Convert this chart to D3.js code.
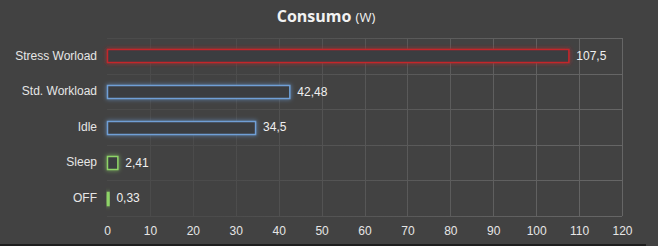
<!DOCTYPE html>
<html>
<head>
<meta charset="utf-8">
<script src="https://cdn.jsdelivr.net/npm/d3@7"></script>
<style>
  html, body { margin: 0; padding: 0; background: #424242; }
  svg { display: block; }
</style>
</head>
<body>
<div id="chart"></div>
<script>
// data
var categories = ["Stress Worload", "Std. Workload", "Idle", "Sleep", "OFF"];
var values = [107.5, 42.48, 34.5, 2.41, 0.33];
var labels = ["107,5", "42,48", "34,5", "2,41", "0,33"];
var strokes = ["#c4262b", "#6f9fd6", "#6f9fd6", "#8ed468", "#8ed468"];
var xTickValues = [0, 10, 20, 30, 40, 50, 60, 70, 80, 90, 100, 110, 120];

// size and margin
var width = 658;
var height = 246;
var margin = {top: 38, right: 36, bottom: 30, left: 107};
var inner_width = width - margin.left - margin.right;
var inner_height = height - margin.top - margin.bottom;

var svg = d3.select("#chart")
            .append("svg")
            .attr("width", width)
            .attr("height", height);

svg.append("rect")
   .attr("width", width)
   .attr("height", height)
   .attr("fill", "#424242");

var defs = svg.append("defs");
// grid fades toward the left
var grad = defs.append("linearGradient")
               .attr("id", "gridFade")
               .attr("gradientUnits", "userSpaceOnUse")
               .attr("x1", margin.left).attr("y1", 0)
               .attr("x2", margin.left + inner_width).attr("y2", 0);
grad.append("stop").attr("offset", "0%").attr("stop-color", "#4b4b4b");
grad.append("stop").attr("offset", "45%").attr("stop-color", "#5c5c5c");
grad.append("stop").attr("offset", "100%").attr("stop-color", "#6c6c6c");

var glow = defs.append("filter")
               .attr("id", "glow")
               .attr("x", "-50%").attr("y", "-50%")
               .attr("width", "200%").attr("height", "200%");
glow.append("feGaussianBlur")
    .attr("in", "SourceGraphic")
    .attr("stdDeviation", 2)
    .attr("result", "blur");
var merge = glow.append("feMerge");
merge.append("feMergeNode").attr("in", "blur");
merge.append("feMergeNode").attr("in", "SourceGraphic");

var g = svg.append("g")
           .attr("transform", "translate(" + margin.left + "," + margin.top + ")");

// scales
var xScale = d3.scaleLinear()
               .domain([0, 120])
               .range([0, inner_width]);
var yScale = d3.scaleBand()
               .domain(categories)
               .range([0, inner_height])
               .paddingInner(0.64)
               .paddingOuter(0.32);
var rowScale = d3.scaleBand()
                 .domain(categories)
                 .range([0, inner_height]);

// grid
var grid = g.append("g").attr("stroke", "url(#gridFade)").attr("stroke-width", 1);
grid.selectAll(".vgrid")
    .data(xTickValues.slice(1))
    .enter().append("line")
    .attr("class", "vgrid")
    .attr("x1", function(d) { return Math.round(xScale(d)) + 0.5; })
    .attr("x2", function(d) { return Math.round(xScale(d)) + 0.5; })
    .attr("y1", 0)
    .attr("y2", inner_height);
grid.selectAll(".hgrid")
    .data(categories)
    .enter().append("line")
    .attr("class", "hgrid")
    .attr("x1", 0)
    .attr("x2", inner_width)
    .attr("y1", function(d) { return Math.round(rowScale(d) + rowScale.bandwidth()) + 0.5; })
    .attr("y2", function(d) { return Math.round(rowScale(d) + rowScale.bandwidth()) + 0.5; });
grid.append("line")
    .attr("x1", 0).attr("x2", inner_width)
    .attr("y1", 0.5).attr("y2", 0.5);

// x axis
var xAxis = d3.axisBottom(xScale).tickValues(xTickValues).tickSize(0).tickPadding(10);
var xg = g.append("g")
          .attr("transform", "translate(0," + inner_height + ")")
          .call(xAxis);
xg.select(".domain").remove();
xg.selectAll("text")
  .attr("fill", "#e6e6e6")
  .attr("font-family", "Arial, 'Liberation Sans', sans-serif")
  .attr("font-size", 12);

// y axis
var yAxis = d3.axisLeft(yScale).tickSize(0).tickPadding(10);
var yg = g.append("g").call(yAxis);
yg.select(".domain").remove();
yg.selectAll("text")
  .attr("fill", "#e6e6e6")
  .attr("font-family", "Arial, 'Liberation Sans', sans-serif")
  .attr("font-size", 12);

// bars
var data = categories.map(function(c, i) {
  return {name: c, value: values[i], label: labels[i], stroke: strokes[i]};
});

g.selectAll(".bar")
 .data(data)
 .enter().append("rect")
 .attr("class", "bar")
 .attr("x", xScale(0) + 0.5)
 .attr("y", function(d) { return Math.round(yScale(d.name)) + 0.5; })
 .attr("width", function(d) { return Math.max(1, xScale(d.value) - xScale(0)); })
 .attr("height", Math.round(yScale.bandwidth()))
 .attr("fill", "#3b3d40")
 .attr("stroke", function(d) { return d.stroke; })
 .attr("stroke-width", 1.5)
 .attr("filter", "url(#glow)");

g.selectAll(".value")
 .data(data)
 .enter().append("text")
 .attr("class", "value")
 .attr("x", function(d) { return xScale(d.value) + 8; })
 .attr("y", function(d) { return yScale(d.name) + yScale.bandwidth() / 2; })
 .attr("dy", "0.35em")
 .attr("fill", "#f0f0f0")
 .attr("font-family", "Arial, 'Liberation Sans', sans-serif")
 .attr("font-size", 12)
 .text(function(d) { return d.label; });

// title
var title = svg.append("text")
               .attr("x", width / 2 - 3)
               .attr("y", 22)
               .attr("text-anchor", "middle")
               .attr("fill", "#f2f2f2")
               .attr("font-family", "'Open Sans', sans-serif");
title.append("tspan")
     .attr("font-size", 16)
     .attr("font-weight", "bold")
     .text("Consumo ");
title.append("tspan")
     .attr("font-size", 13)
     .text("(W)");

// dark frame edge at the bottom
svg.append("rect")
   .attr("x", 0).attr("y", height - 2)
   .attr("width", width - 12).attr("height", 2)
   .attr("fill", "#1e1e1e");
</script>
</body>
</html>
